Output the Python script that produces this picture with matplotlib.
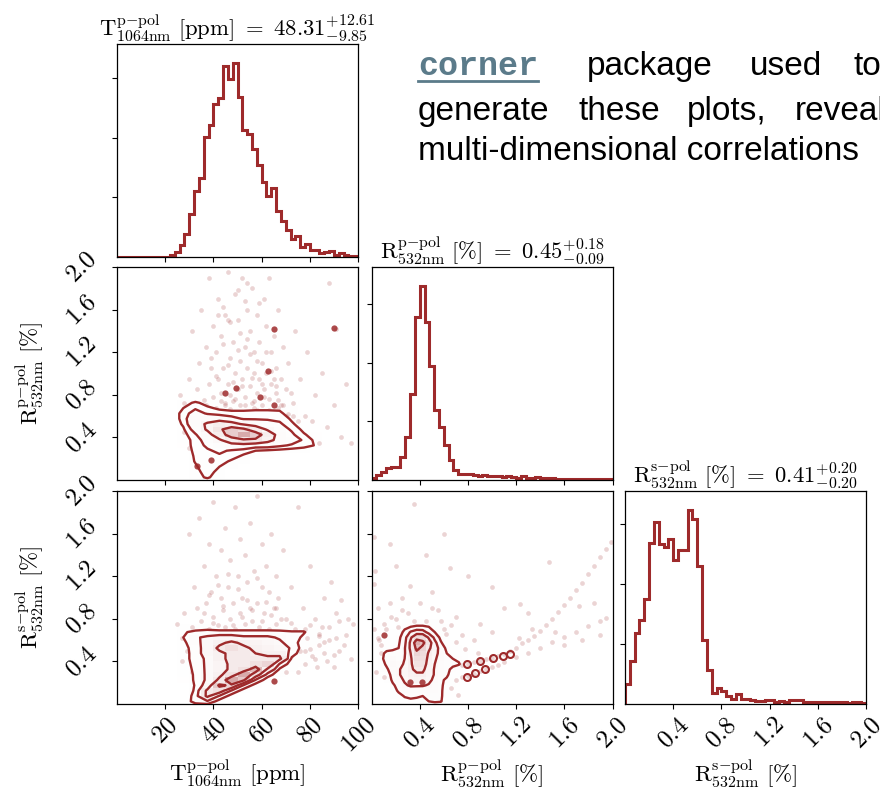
import numpy as np
import matplotlib
matplotlib.use("Agg")
import matplotlib.pyplot as plt
from matplotlib.colors import LinearSegmentedColormap
from matplotlib.lines import Line2D

plt.rcParams['mathtext.fontset'] = 'cm'
plt.rcParams['font.family'] = ['DejaVu Serif']

COLOR = "#9e2a2b"

# ---------------- data ----------------
T_range = (0, 100)
R_range = (0, 2.0)
T_counts = [0] * 11 + [3, 9, 20, 38, 72, 111, 133, 202, 222, 257,
                       267, 320, 299, 325, 268, 213, 206, 182, 155, 126,
                       103, 115, 78, 61, 45, 31, 35, 17, 21, 12,
                       11, 7, 8, 10, 4, 7, 3, 1, 1]
Rp_counts = [4, 8, 14, 20, 22, 23, 40, 73, 147, 278,
             330, 270, 195, 120, 91, 60, 34, 17, 11, 10,
             10, 9, 7, 9, 7, 6, 7, 5, 6, 5,
             4, 6, 4, 4, 5, 3, 4, 3, 2, 2,
             2, 2, 2, 2, 2, 2, 2, 2, 2, 2]
Rs_counts = [33, 72, 118, 139, 175, 268, 303, 266, 261, 274,
             240, 256, 256, 322, 307, 229, 107, 56, 19, 27,
             22, 14, 8, 16, 9, 9, 6, 5, 5, 6,
             7, 4, 5, 4, 6, 6, 7, 4, 4, 3,
             4, 3, 3, 3, 3, 3, 2, 3, 3, 2]
hist_yticks = [100, 200, 300]

T_ticks = [20, 40, 60, 80, 100]
R_ticks = [0.4, 0.8, 1.2, 1.6, 2.0]
T_ticklabels = ["$20$", "$40$", "$60$", "$80$", "$100$"]
R_ticklabels = ["$0.4$", "$0.8$", "$1.2$", "$1.6$", "$2.0$"]

label_T = r"$\mathrm{T}^{\mathrm{p{-}pol}}_{\mathrm{1064nm}}\ [\mathrm{ppm}]$"
label_Rp = r"$\mathrm{R}^{\mathrm{p{-}pol}}_{\mathrm{532nm}}\ [\%]$"
label_Rs = r"$\mathrm{R}^{\mathrm{s{-}pol}}_{\mathrm{532nm}}\ [\%]$"
title_T = r"$\mathrm{T}^{\mathrm{p{-}pol}}_{\mathrm{1064nm}}\ [\mathrm{ppm}]\ =\ 48.31^{+12.61}_{-9.85}$"
title_Rp = r"$\mathrm{R}^{\mathrm{p{-}pol}}_{\mathrm{532nm}}\ [\%]\ =\ 0.45^{+0.18}_{-0.09}$"
title_Rs = r"$\mathrm{R}^{\mathrm{s{-}pol}}_{\mathrm{532nm}}\ [\%]\ =\ 0.41^{+0.20}_{-0.20}$"

# 2D density grids (rows listed from top to bottom)
A_xedges = (25, 85, 5)        # T
A_yedges = (0.0, 0.75, 0.05)  # Rp
A_grid = [
    [0.5, 1.2, 0.6, 0.3, 0.3, 0.3, 0.3, 0.3, 0.2, 0, 0, 0],
    [1.0, 2.0, 1.2, 0.8, 0.8, 0.8, 0.8, 0.8, 0.8, 0.3, 0, 0],
    [1.5, 3.0, 2.0, 1.5, 1.2, 1.2, 1.3, 1.3, 1.2, 0.5, 0, 0],
    [1.5, 4.0, 4.0, 4.0, 3.0, 2.0, 2.0, 2.0, 1.8, 0.8, 0.2, 0],
    [1.2, 4.0, 6.0, 8.0, 7.0, 5.0, 4.0, 3.0, 2.5, 1.2, 0.3, 0],
    [0.8, 3.0, 6.0, 10, 14, 12, 8.0, 5.0, 3.0, 2.0, 0.6, 0],
    [0.5, 2.0, 4.0, 8.0, 14, 18, 14, 8.0, 4.0, 2.5, 1.2, 0.2],
    [0.3, 1.5, 3.0, 5.0, 8.0, 10, 10, 7.0, 4.0, 3.0, 2.0, 0.6],
    [0.2, 1.5, 2.5, 3.0, 4.0, 4.0, 3.0, 3.0, 2.5, 2.0, 1.5, 0.9],
    [0, 1.4, 2.0, 2.5, 2.0, 1.5, 1.0, 0.8, 0.6, 0.4, 0.3, 0],
    [0, 1.2, 2.0, 2.0, 1.5, 0.8, 0.4, 0.2, 0, 0, 0, 0],
    [0, 1.1, 2.0, 1.5, 0.8, 0.3, 0, 0, 0, 0, 0, 0],
    [0, 0.8, 1.8, 1.0, 0.4, 0, 0, 0, 0, 0, 0, 0],
    [0, 0.6, 1.5, 0.6, 0, 0, 0, 0, 0, 0, 0, 0],
    [0, 0.5, 1.2, 0.3, 0, 0, 0, 0, 0, 0, 0, 0],
]
A_levels = [1.0, 2.2, 5.5, 11.0]

B_xedges = (25, 85, 5)        # T
B_yedges = (0.0, 0.75, 0.05)  # Rs
B_grid = [
    [0.3, 0.5, 0.6, 0.6, 0.6, 0.6, 0.6, 0.6, 0.5, 0.4, 0.4, 0.1],
    [0.9, 1.2, 1.3, 1.2, 1.2, 1.2, 1.2, 1.2, 1.2, 1.1, 1.1, 0.3],
    [1.0, 2.0, 2.5, 3.0, 3.0, 2.5, 2.5, 2.5, 2.0, 1.5, 0.8, 0.3],
    [0.8, 1.6, 3.0, 4.0, 5.0, 4.0, 3.5, 3.0, 2.5, 1.5, 0.5, 0.2],
    [0.6, 1.5, 3.0, 5.0, 6.0, 5.0, 4.0, 3.5, 3.0, 2.0, 0.4, 0.1],
    [0.5, 1.5, 3.0, 4.0, 5.0, 5.0, 4.5, 4.0, 4.0, 1.5, 0.3, 0],
    [0.5, 1.5, 2.5, 4.0, 5.0, 5.0, 5.0, 5.0, 5.0, 0.8, 0.2, 0],
    [0.4, 1.4, 2.5, 3.5, 5.0, 5.0, 6.0, 7.0, 2.0, 0.4, 0.1, 0],
    [0.3, 1.3, 2.5, 3.5, 5.0, 6.0, 9.0, 4.0, 0.8, 0.2, 0, 0],
    [0.2, 1.2, 2.5, 4.0, 6.0, 10, 6.0, 1.5, 0.3, 0, 0, 0],
    [0.1, 1.2, 2.5, 5.0, 10, 8.0, 2.0, 0.4, 0, 0, 0, 0],
    [0, 1.1, 3.0, 8.0, 7.0, 2.0, 0.5, 0, 0, 0, 0, 0],
    [0, 1.2, 5.0, 6.0, 2.0, 0.5, 0, 0, 0, 0, 0, 0],
    [0, 1.5, 5.0, 2.0, 0.5, 0, 0, 0, 0, 0, 0, 0],
    [0, 1.6, 2.0, 0.5, 0, 0, 0, 0, 0, 0, 0, 0],
]
B_levels = [1.0, 2.2, 4.5, 7.5]

C_xedges = (0.05, 0.8, 0.05)  # Rp
C_yedges = (0.0, 0.8, 0.05)   # Rs
C_grid = [
    [0, 0, 0, 0, 0.3, 0.5, 0.6, 0.6, 0.5, 0.3, 0.2, 0, 0, 0, 0],
    [0, 0, 0, 0.3, 0.8, 1.0, 1.1, 1.1, 1.0, 0.6, 0.3, 0.1, 0, 0, 0],
    [0, 0, 0.2, 0.6, 1.2, 2.0, 2.5, 2.4, 1.5, 1.0, 0.5, 0.2, 0, 0, 0],
    [0, 0.1, 0.3, 0.8, 1.5, 3.0, 4.5, 4.5, 3.0, 1.6, 0.8, 0.3, 0, 0, 0],
    [0, 0.2, 0.5, 0.9, 1.6, 3.5, 7.0, 6.0, 4.0, 2.2, 1.1, 0.5, 0.1, 0, 0],
    [0.2, 0.6, 0.8, 1.0, 1.8, 3.5, 6.0, 5.0, 3.5, 2.4, 1.5, 0.8, 0.3, 0.1, 0],
    [0.6, 1.3, 1.3, 1.1, 1.8, 3.2, 5.0, 4.5, 3.0, 2.2, 1.6, 1.0, 0.6, 0.3, 0.1],
    [0.7, 1.4, 1.6, 1.3, 1.9, 3.0, 4.5, 4.2, 2.8, 2.0, 1.6, 1.2, 1.0, 0.8, 0.4],
    [0.4, 1.2, 1.8, 1.6, 2.0, 3.0, 4.0, 4.0, 2.6, 1.9, 1.5, 1.3, 1.2, 1.1, 0.4],
    [0.2, 0.8, 1.6, 1.8, 2.2, 3.0, 3.5, 3.5, 2.5, 1.8, 1.4, 1.2, 0.8, 0.4, 0.2],
    [0, 0.4, 1.4, 1.8, 2.2, 2.8, 3.0, 3.0, 2.4, 1.8, 1.4, 1.2, 0.4, 0.2, 0.1],
    [0, 0.2, 1.2, 1.6, 2.0, 2.5, 2.6, 2.6, 2.2, 1.6, 1.2, 0.8, 0.2, 0, 0],
    [0, 0, 0.8, 1.4, 1.8, 2.0, 2.0, 2.0, 1.8, 1.5, 1.2, 0.6, 0.1, 0, 0],
    [0, 0, 0.4, 1.2, 1.5, 1.5, 1.4, 1.3, 1.4, 1.4, 1.2, 0.4, 0, 0, 0],
    [0, 0, 0.1, 0.6, 1.1, 1.2, 1.1, 1.0, 1.2, 1.3, 1.2, 0.3, 0, 0, 0],
    [0, 0, 0, 0.3, 0.6, 0.8, 0.8, 0.8, 1.0, 1.2, 1.1, 0.3, 0, 0, 0],
]
C_levels = [1.0, 1.9, 3.2, 5.5]

# scattered samples outside the contours
A_pts_x = [26, 28, 30, 31, 33, 34, 35, 36, 37, 38, 38, 39, 40, 40, 41, 42, 42, 43, 43, 44,
           45, 45, 46, 46, 47, 47, 48, 48, 49, 49, 50, 50, 51, 51, 52, 52, 53, 53, 54, 54,
           55, 55, 56, 56, 57, 57, 58, 58, 59, 59, 60, 60, 61, 61, 62, 62, 63, 63, 64, 64,
           65, 65, 66, 67, 67, 68, 69, 70, 70, 71, 72, 73, 74, 75, 76, 78, 79, 80, 82, 84,
           85, 87, 88, 90, 91, 93, 95, 97, 35, 30, 28, 44, 53, 58, 41, 47, 66, 72, 36, 57,
           39, 41, 44, 46, 48, 50, 52, 54, 56, 58, 60, 62, 64, 66, 68, 43, 47, 51, 55, 59,
           45, 49, 53, 57, 61, 65, 69, 73, 77, 81, 34, 37, 63, 67, 71, 75, 50, 54, 46, 42]
A_pts_y = [0.80, 0.72, 0.95, 1.40, 0.85, 1.10, 1.60, 0.75, 1.25, 0.90, 1.90, 1.05, 0.78, 1.45, 1.20, 0.95, 1.70, 0.82, 1.35, 1.05,
           0.72, 1.55, 0.90, 1.95, 1.15, 0.80, 1.30, 0.74, 1.00, 1.75, 0.85, 1.50, 1.12, 0.70, 1.90, 0.95, 1.25, 0.78, 1.60, 1.05,
           0.88, 1.40, 0.72, 1.80, 1.00, 1.20, 0.82, 1.55, 0.95, 1.30, 0.70, 1.10, 1.70, 0.85, 1.00, 1.45, 0.76, 1.90, 1.20, 0.90,
           0.65, 1.35, 1.05, 0.75, 1.60, 0.95, 1.25, 0.60, 0.85, 1.10, 0.50, 0.72, 1.40, 0.45, 0.95, 0.60, 1.20, 0.38, 0.80, 0.35,
           1.00, 0.50, 1.85, 0.70, 1.42, 0.40, 0.90, 0.35, 0.60, 0.30, 0.45, 1.62, 1.68, 0.66, 0.68, 0.67, 0.88, 0.82, 0.25, 0.68,
           1.15, 0.98, 1.28, 1.08, 0.92, 1.22, 0.88, 1.32, 0.96, 1.12, 0.90, 1.20, 1.02, 0.82, 0.70, 0.74, 1.48, 1.38, 1.18, 1.66,
           0.70, 0.76, 0.70, 0.74, 0.78, 0.95, 0.70, 0.60, 0.40, 0.55, 0.62, 0.70, 0.66, 0.68, 0.62, 0.55, 1.78, 1.85, 1.50, 1.55]
A_dark_x = [65.2, 62.8, 44.9, 49.3, 59.2, 65.0, 90.0, 33.0, 39.0]
A_dark_y = [1.42, 1.02, 0.82, 0.86, 0.78, 0.70, 1.43, 0.13, 0.19]

B_pts_x = [25, 27, 28, 30, 31, 32, 33, 34, 35, 36, 37, 38, 38, 39, 40, 40, 41, 42, 43, 43,
           44, 45, 45, 46, 47, 47, 48, 49, 49, 50, 51, 51, 52, 53, 53, 54, 55, 55, 56, 57,
           58, 58, 59, 60, 60, 61, 62, 63, 63, 64, 65, 66, 66, 67, 68, 69, 70, 70, 72, 72,
           74, 75, 76, 77, 78, 79, 80, 81, 82, 83, 84, 85, 86, 87, 88, 89, 90, 91, 92, 93,
           95, 96, 97, 98, 62, 58, 75, 70, 80, 86, 91, 78, 74, 84,
           36, 40, 44, 48, 52, 56, 60, 64, 68, 72, 76, 80, 84, 88, 92, 38, 42, 46, 50, 54,
           58, 62, 66, 70, 33, 29, 27, 31, 35, 78, 82, 86, 90, 94]
B_pts_y = [0.75, 0.62, 0.85, 1.60, 0.72, 1.10, 0.90, 1.75, 0.78, 1.30, 0.95, 0.70, 1.50, 1.05, 0.82, 1.90, 1.20, 0.74, 1.00, 1.45,
           0.88, 1.65, 0.72, 1.10, 0.80, 1.35, 0.95, 1.85, 0.70, 1.20, 0.85, 1.55, 1.00, 0.75, 1.40, 1.15, 0.90, 1.70, 0.78, 1.25,
           0.95, 1.95, 0.72, 1.10, 1.50, 0.85, 1.30, 0.70, 1.05, 1.60, 0.90, 0.75, 1.20, 1.00, 0.68, 1.45, 0.80, 0.55, 1.10, 0.45,
           0.70, 1.85, 0.50, 0.90, 0.38, 0.62, 1.30, 0.45, 0.80, 0.35, 0.55, 0.72, 1.00, 0.40, 0.60, 1.15, 0.35, 0.85, 0.50, 0.98,
           0.65, 0.80, 0.42, 0.75, 0.35, 0.25, 0.30, 0.30, 0.52, 0.48, 0.62, 0.70, 0.58, 0.64,
           0.85, 0.76, 0.92, 0.74, 0.82, 0.88, 0.78, 0.84, 0.80, 0.76, 0.68, 0.74, 0.66, 0.72, 0.78, 1.02, 1.12, 1.22, 1.08, 0.98,
           1.18, 0.96, 0.90, 0.68, 0.55, 0.50, 0.40, 0.30, 0.20, 0.50, 0.42, 0.58, 0.46, 0.55]
B_dark_x = [65.2]
B_dark_y = [0.22]

C_pts_x = [0.75, 0.80, 0.85, 0.90, 0.95, 1.00, 1.05, 1.10, 1.15, 1.20, 1.25, 1.30, 1.35, 1.40, 1.45, 1.50, 1.55, 1.60, 1.65, 1.70,
           1.75, 1.80, 1.85, 1.90, 1.95, 1.99,
           0.70, 0.75, 0.80, 0.85, 0.90, 0.95, 1.00, 1.05, 1.10, 1.20, 1.30, 1.40, 1.50, 1.60, 1.70, 1.80, 1.90, 1.95,
           0.02, 0.02, 0.15, 0.35, 0.32, 0.65, 1.23, 1.47, 0.05, 0.10, 0.20, 0.25, 0.30, 0.40, 0.45, 0.50, 0.55, 0.60,
           0.70, 0.75, 0.85, 0.90, 1.00, 1.10, 1.30, 1.60, 1.75, 1.85, 1.90, 0.08, 0.12, 0.45, 0.80, 1.00, 0.20, 0.60,
           0.03, 0.06, 0.15, 0.22, 0.58, 0.66,
           0.02, 0.05, 0.08, 0.12, 0.04, 0.10, 0.16, 0.25, 0.35, 0.50, 0.62, 0.70, 0.78, 0.88, 0.66, 0.72, 1.22, 1.33, 1.52, 1.72]
C_pts_y = [0.37, 0.38, 0.39, 0.40, 0.42, 0.43, 0.45, 0.47, 0.50, 0.53, 0.57, 0.60, 0.64, 0.69, 0.74, 0.80, 0.86, 0.93, 1.00, 1.07,
           1.14, 1.22, 1.30, 1.38, 1.46, 1.52,
           0.23, 0.25, 0.26, 0.28, 0.31, 0.33, 0.35, 0.37, 0.39, 0.44, 0.48, 0.53, 0.58, 0.63, 0.68, 0.73, 0.78, 0.81,
           1.57, 1.13, 1.50, 1.88, 1.11, 1.28, 0.94, 1.33, 0.90, 0.75, 0.80, 1.00, 0.85, 0.95, 0.78, 1.05, 0.88, 0.70,
           0.82, 0.65, 0.60, 0.75, 0.68, 0.90, 0.85, 0.55, 0.60, 0.95, 0.65, 0.55, 0.70, 1.40, 1.20, 1.10, 1.30, 1.60,
           1.25, 0.60, 0.95, 0.72, 0.78, 0.74,
           0.70, 0.62, 0.48, 0.38, 0.30, 0.25, 0.82, 0.88, 0.78, 0.90, 0.66, 0.58, 0.52, 0.48, 0.15, 0.08, 0.62, 0.70, 0.68, 0.92]
C_dark_x = [0.10, 0.32, 0.42]
C_dark_y = [0.65, 0.21, 0.21]
C_ring_x = [0.79, 0.90, 1.01, 1.09, 1.15, 0.79, 0.86, 0.94]
C_ring_y = [0.38, 0.40, 0.43, 0.45, 0.47, 0.25, 0.29, 0.33]

# ---------------- figure ----------------
W, H = 880, 795
fig = plt.figure(figsize=(W / 100, H / 100), dpi=100)
fig.patch.set_facecolor("white")

col_left = [117, 371.5, 625]
row_top = [44, 267, 491]
pw, ph = 241, 213

TICK_FS = 18
LABEL_FS = 16.5
TITLE_FS = 16.3


def make_ax(r, c):
    l = col_left[c] / W
    b = 1 - (row_top[r] + ph) / H
    return fig.add_axes([l, b, pw / W, ph / H])


def style(ax):
    ax.tick_params(direction="out", length=3.5, width=0.8, labelsize=TICK_FS, pad=3)
    for s in ax.spines.values():
        s.set_linewidth(0.9)


density_cmap = LinearSegmentedColormap.from_list("dens", [(1, 1, 1, 0), COLOR])


def hist1d(ax, counts, rng, title):
    edges = np.linspace(rng[0], rng[1], len(counts) + 1)
    ax.stairs(counts, edges, color=COLOR, lw=2.2)
    ax.set_xlim(*rng)
    ax.set_ylim(0, 1.1 * max(counts))
    ax.set_yticks(hist_yticks)
    ax.set_yticklabels([])
    ax.set_title(title, fontsize=TITLE_FS, pad=6)


def panel2d(ax, xe, ye, grid, levels, px, py, dx_, dy_):
    Z = np.asarray(grid, dtype=float)[::-1]
    xed = np.arange(xe[0], xe[1] + xe[2] / 2, xe[2])
    yed = np.arange(ye[0], ye[1] + ye[2] / 2, ye[2])
    xc = 0.5 * (xed[1:] + xed[:-1])
    yc = 0.5 * (yed[1:] + yed[:-1])
    Zp = np.pad(Z, 1)
    xcp = np.concatenate([[xc[0] - xe[2]], xc, [xc[-1] + xe[2]]])
    ycp = np.concatenate([[yc[0] - ye[2]], yc, [yc[-1] + ye[2]]])
    ax.plot(px, py, "o", ms=3.4, color=COLOR, alpha=0.2, mec="none", zorder=1)
    ax.contourf(xcp, ycp, Zp, [levels[0], Zp.max() + 1], colors="white", zorder=2)
    ax.pcolormesh(xed, yed, Z, cmap=density_cmap, vmin=0, vmax=Z.max() * 1.6,
                  zorder=3, shading="flat")
    ax.contour(xcp, ycp, Zp, levels, colors=COLOR, linewidths=1.7, zorder=4)
    ax.plot(dx_, dy_, "o", ms=4.5, color=COLOR, alpha=0.85, mec="none", zorder=5)


def rot_x(ax, ticks, labels):
    ax.set_xticks(ticks)
    ax.set_xticklabels(labels, rotation=45, ha="center", va="top")


def rot_y(ax, ticks, labels):
    ax.set_yticks(ticks)
    ax.set_yticklabels(labels, rotation=45, ha="right", va="center")


# diagonal histograms
ax11 = make_ax(0, 0)
hist1d(ax11, T_counts, T_range, title_T)
ax11.set_xticks(T_ticks)
ax11.set_xticklabels([])

ax22 = make_ax(1, 1)
hist1d(ax22, Rp_counts, R_range, title_Rp)
ax22.set_xticks(R_ticks)
ax22.set_xticklabels([])

ax33 = make_ax(2, 2)
hist1d(ax33, Rs_counts, R_range, title_Rs)
rot_x(ax33, R_ticks, R_ticklabels)
ax33.set_xlabel(label_Rs, fontsize=LABEL_FS)
ax33.xaxis.set_label_coords(0.5, -0.25)

# 2D panels
ax21 = make_ax(1, 0)
panel2d(ax21, A_xedges, A_yedges, A_grid, A_levels, A_pts_x, A_pts_y, A_dark_x, A_dark_y)
ax21.set_xlim(*T_range); ax21.set_ylim(*R_range)
ax21.set_xticks(T_ticks); ax21.set_xticklabels([])
rot_y(ax21, R_ticks, R_ticklabels)
ax21.set_ylabel(label_Rp, fontsize=LABEL_FS)
ax21.yaxis.set_label_coords(-0.3, 0.5)

ax31 = make_ax(2, 0)
panel2d(ax31, B_xedges, B_yedges, B_grid, B_levels, B_pts_x, B_pts_y, B_dark_x, B_dark_y)
ax31.set_xlim(*T_range); ax31.set_ylim(*R_range)
rot_x(ax31, T_ticks, T_ticklabels)
rot_y(ax31, R_ticks, R_ticklabels)
ax31.set_ylabel(label_Rs, fontsize=LABEL_FS)
ax31.yaxis.set_label_coords(-0.3, 0.5)
ax31.set_xlabel(label_T, fontsize=LABEL_FS)
ax31.xaxis.set_label_coords(0.5, -0.25)

ax32 = make_ax(2, 1)
panel2d(ax32, C_xedges, C_yedges, C_grid, C_levels, C_pts_x, C_pts_y, C_dark_x, C_dark_y)
ax32.plot(C_ring_x, C_ring_y, "o", ms=5, mfc="none", mec=COLOR, mew=1.5, zorder=5)
ax32.set_xlim(*R_range); ax32.set_ylim(*R_range)
rot_x(ax32, R_ticks, R_ticklabels)
ax32.set_yticks(R_ticks); ax32.set_yticklabels([])
ax32.set_xlabel(label_Rp, fontsize=LABEL_FS)
ax32.xaxis.set_label_coords(0.5, -0.25)

for a in [ax11, ax22, ax33, ax21, ax31, ax32]:
    style(a)
for a in [ax21, ax31]:
    a.tick_params(axis="y", pad=8)

# slide text on the right
TXT = "#000000"
LINK = "#5b7b8a"


def fx(x):
    return x / W


def fy(y):
    return 1 - y / H


fig.text(fx(418), fy(75), "corner", family="Liberation Mono", weight="bold",
         fontsize=24, color=LINK, va="baseline", ha="left")
fig.add_artist(Line2D([fx(418), fx(538)], [fy(81), fy(81)], color=LINK, lw=2))
for word, x in [("package", 587), ("used", 750), ("to", 853)]:
    fig.text(fx(x), fy(75), word, family="Liberation Sans", fontsize=24,
             color=TXT, va="baseline", ha="left")
for word, x in [("generate", 418), ("these", 578), ("plots,", 687), ("reveal", 795)]:
    fig.text(fx(x), fy(120), word, family="Liberation Sans", fontsize=24,
             color=TXT, va="baseline", ha="left")
fig.text(fx(418), fy(160), "multi-dimensional correlations", family="Liberation Sans",
         fontsize=24, color=TXT, va="baseline", ha="left")

fig.savefig("out.png", dpi=100, facecolor="white")
